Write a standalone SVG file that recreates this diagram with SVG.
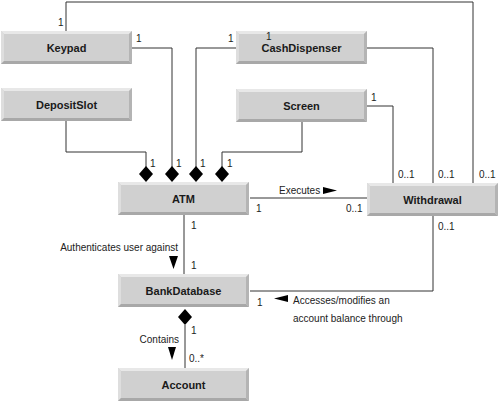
<svg xmlns="http://www.w3.org/2000/svg" xmlns:xlink="http://www.w3.org/1999/xlink" width="500" height="403" viewBox="0 0 500 403">
<style>
.name{font-family:"Liberation Sans",Arial,sans-serif;font-weight:bold;font-size:11px;fill:#1a1a1a;text-anchor:middle}
.lbl{font-family:"Liberation Sans",Arial,sans-serif;font-size:10px;fill:#222}
.ln{fill:none;stroke:#333;stroke-width:1}
.mark{fill:#000}
</style>
<defs>
<g id="box">
<rect x="0" y="0" width="131" height="33" fill="#d0d0d0"/>
<polygon points="0,0 131,0 128,3 3,3" fill="#e8e8e8"/>
<polygon points="0,0 3,3 3,30 0,33" fill="#dedede"/>
<polygon points="0,33 3,30 128,30 131,33" fill="#a8a8a8"/>
<polygon points="131,0 131,33 128,30 128,3" fill="#b4b4b4"/>
</g>
<polygon id="dia" points="0,-8 7,0 0,8 -7,0" class="mark"/>
</defs>
<rect width="500" height="403" fill="#fff"/>

<g id="connectors">
<polyline class="ln" points="66,31 66,2 473,2 473,183"/>
<polyline class="ln" points="132,48 172,48 172,167"/>
<polyline class="ln" points="236,48 196,48 196,167"/>
<polyline class="ln" points="367,48 433,48 433,183"/>
<polyline class="ln" points="367,106 393,106 393,183"/>
<polyline class="ln" points="66,121 66,152 146,152 146,167"/>
<polyline class="ln" points="302,122 302,152 222,152 222,167"/>
<use xlink:href="#dia" x="146" y="174"/>
<use xlink:href="#dia" x="172" y="174"/>
<use xlink:href="#dia" x="196" y="174"/>
<use xlink:href="#dia" x="222" y="174"/>
<line class="ln" x1="250" y1="198" x2="367" y2="198"/>
<line class="ln" x1="184" y1="215" x2="184" y2="274"/>
<polyline class="ln" points="433,216 433,291 250,291"/>
<line class="ln" x1="185" y1="325" x2="185" y2="368"/>
<use xlink:href="#dia" x="185" y="317"/>
<polygon class="mark" points="323,187 337,190.5 323,194"/>
<polygon class="mark" points="169,256 178,256 173.5,269"/>
<polygon class="mark" points="274,298.5 288,295 288,302"/>
<polygon class="mark" points="168,347 176,347 172,360"/>

<text class="lbl" x="58" y="26">1</text>
<text class="lbl" x="136" y="42">1</text>
<text class="lbl" x="228" y="42">1</text>
<text class="lbl" x="371" y="101">1</text>
<text class="lbl" x="150" y="167">1</text>
<text class="lbl" x="176" y="167">1</text>
<text class="lbl" x="200" y="167">1</text>
<text class="lbl" x="227" y="167">1</text>
<text class="lbl" x="398" y="178">0..1</text>
<text class="lbl" x="438" y="178">0..1</text>
<text class="lbl" x="479" y="178">0..1</text>
<text class="lbl" x="279" y="194">Executes</text>
<text class="lbl" x="256" y="212">1</text>
<text class="lbl" x="346" y="212">0..1</text>
<text class="lbl" x="438" y="230">0..1</text>
<text class="lbl" x="191" y="229">1</text>
<text class="lbl" x="178" y="251" text-anchor="end">Authenticates user against</text>
<text class="lbl" x="191" y="269">1</text>
<text class="lbl" x="257" y="306">1</text>
<text class="lbl" x="293" y="304">Accesses/modifies an</text>
<text class="lbl" x="293" y="322">account balance through</text>
<text class="lbl" x="191" y="334">1</text>
<text class="lbl" x="179" y="343" text-anchor="end">Contains</text>
<text class="lbl" x="189" y="362">0..*</text>
</g>

<g id="keypad"><use xlink:href="#box" x="1" y="31"/><text class="name" x="66.5" y="52">Keypad</text></g>
<g id="depositslot"><use xlink:href="#box" x="1" y="88"/><text class="name" x="66.5" y="109">DepositSlot</text></g>
<g id="cashdispenser"><use xlink:href="#box" x="236" y="31"/><text class="name" x="301.5" y="52">CashDispenser</text><text class="lbl" x="266" y="40">1</text></g>
<g id="screen"><use xlink:href="#box" x="236" y="89"/><text class="name" x="301.5" y="110">Screen</text></g>
<g id="atm"><use xlink:href="#box" x="118" y="182"/><text class="name" x="183.5" y="203">ATM</text></g>
<g id="withdrawal"><use xlink:href="#box" x="367" y="183"/><text class="name" x="432.5" y="204">Withdrawal</text></g>
<g id="bankdatabase"><use xlink:href="#box" x="118" y="274"/><text class="name" x="183.5" y="295">BankDatabase</text></g>
<g id="account"><use xlink:href="#box" x="118" y="368"/><text class="name" x="183.5" y="389">Account</text></g>
</svg>
